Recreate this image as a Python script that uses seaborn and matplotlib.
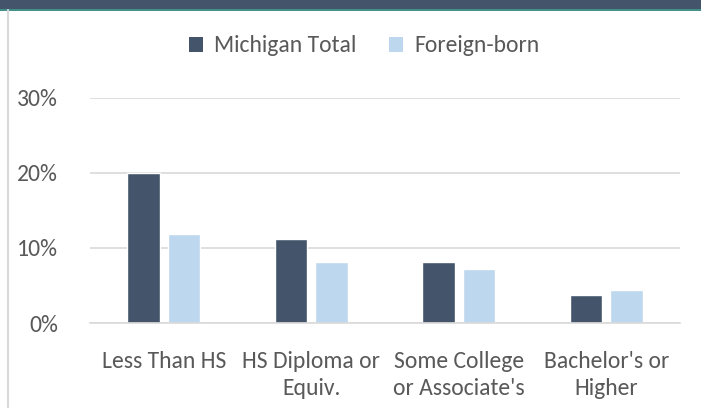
import matplotlib
matplotlib.use("Agg")
import matplotlib.pyplot as plt
import seaborn as sns
import pandas as pd
from matplotlib.patches import Rectangle
from matplotlib.lines import Line2D

categories = ["Less Than HS", "HS Diploma or\nEquiv.", "Some College\nor Associate's", "Bachelor's or\nHigher"]
michigan_total = [0.200, 0.112, 0.081, 0.037]
foreign_born = [0.119, 0.081, 0.072, 0.044]
series_names = ["Michigan Total", "Foreign-born"]
yticks = [0, 0.1, 0.2, 0.3]
ytick_labels = ["0%", "10%", "20%", "30%"]

df = pd.DataFrame({
    "cat": categories * 2,
    "val": michigan_total + foreign_born,
    "series": [series_names[0]] * 4 + [series_names[1]] * 4,
})

sns.set_theme(style="white")
plt.rcParams["font.family"] = ["Carlito", "DejaVu Sans"]

W, H = 701, 408
FS = 17
TXT = "#595959"
fig = plt.figure(figsize=(W / 100, H / 100), dpi=100)
ax = fig.add_axes([90 / W, 1 - 323 / H, (680 - 90) / W, (323 - 98) / H])

colors = ["#44546A", "#BDD7EE"]
sns.barplot(data=df, x="cat", y="val", hue="series", palette=colors,
            width=0.55, gap=0.2, ax=ax, legend=False, saturation=1)

ax.set_ylim(0, 0.3)
ax.set_xlim(-0.5, 3.5)
ax.set_yticks(yticks)
ax.set_yticklabels(ytick_labels)
ax.yaxis.grid(True, color="#D9D9D9", linewidth=1.2)
ax.set_axisbelow(True)
for s in ["top", "right", "left"]:
    ax.spines[s].set_visible(False)
ax.spines["bottom"].set_color("#D9D9D9")
ax.spines["bottom"].set_linewidth(1.2)
ax.tick_params(axis="y", length=0, pad=23, labelsize=FS, labelcolor=TXT)
ax.tick_params(axis="x", length=0, pad=20, labelsize=FS, labelcolor=TXT)
for t in ax.get_xticklabels():
    t.set_linespacing(1.35)
ax.set_xlabel("")
ax.set_ylabel("")

# header band and frame
fig.patches.append(Rectangle((0, 1 - 9 / H), 1, 9 / H, transform=fig.transFigure,
                             facecolor="#44546A", edgecolor="none", zorder=0))
fig.lines.append(Line2D([0, 1], [1 - 10 / H, 1 - 10 / H], transform=fig.transFigure,
                        color="#1E7C6E", linewidth=1.2))
fig.lines.append(Line2D([8 / W, 8 / W], [0, 1 - 10 / H], transform=fig.transFigure,
                        color="#D9D9D9", linewidth=1.5))

handles = [Rectangle((0, 0), 1, 1, facecolor=c, edgecolor="none") for c in colors]
fig.legend(handles, series_names, loc="center", bbox_to_anchor=(364 / W, 1 - 46 / H),
           ncol=2, frameon=False, fontsize=FS, labelcolor=TXT,
           handlelength=0.6, handleheight=0.6, handletextpad=0.45, columnspacing=1.4)

fig.savefig("out.png", dpi=100, facecolor="white")
